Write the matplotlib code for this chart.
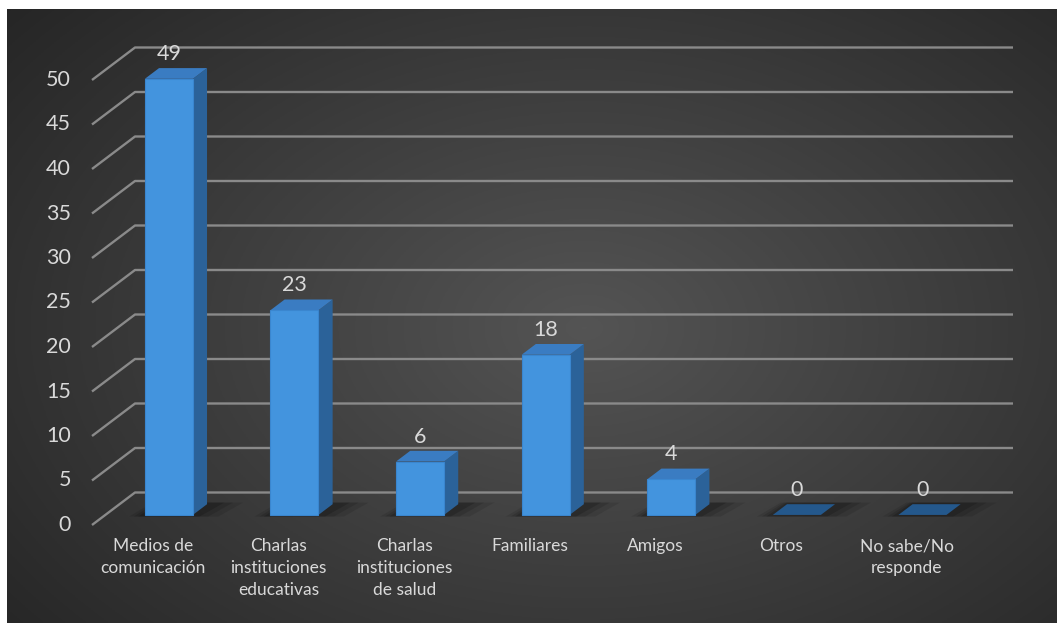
import numpy as np
import matplotlib
matplotlib.use('Agg')
import matplotlib.pyplot as plt
from matplotlib.patches import Polygon

# chart data
categories = ['Medios de\ncomunicación', 'Charlas\ninstituciones\neducativas',
              'Charlas\ninstituciones\nde salud', 'Familiares', 'Amigos', 'Otros',
              'No sabe/No\nresponde']
values = [49, 23, 6, 18, 4, 0, 0]
y_ticks = [0, 5, 10, 15, 20, 25, 30, 35, 40, 45, 50]

# pixel geometry of the front plane (Excel 3D look)
W, H = 1057, 623
X0, XS = 153.0, 125.6      # pixel of category 0, pixels per category
Y0, YS = 525.0, 8.9        # pixel of value 0 (from top), pixels per unit
DX, DY = 43.0 / XS, 32.5 / YS   # full depth offset in data units

def px_x(p):
    return (p - X0) / XS

def px_y(p):
    return (Y0 - p) / YS

def pt(x, y, d):
    return (x + d * DX, y + d * DY)

TXT = '#d9d9d9'
GRID = '#8a8a8a'
plt.rcParams['font.family'] = ['Lato', 'DejaVu Sans']

fig = plt.figure(figsize=(W / 100, H / 100), dpi=100, facecolor='white')

# dark radial background panel
bg = fig.add_axes([7 / W, 0, (W - 7) / W, (H - 9) / H])
gx, gy = np.meshgrid(np.linspace(0, 1, 400), np.linspace(0, 1, 240))
r = np.sqrt(((gx - 0.55) / 0.75) ** 2 + ((gy - 0.52) / 0.85) ** 2)
shade = np.clip(0.33 - 0.19 * r, 0.13, 0.33)
bg.imshow(np.dstack([shade] * 3), aspect='auto', extent=[0, 1, 0, 1], origin='upper')
bg.axis('off')

ax = fig.add_axes([0, 0, 1, 1])
ax.set_xlim(px_x(0), px_x(W))
ax.set_ylim(px_y(H), px_y(0))
ax.axis('off')
ax.patch.set_alpha(0)

# gridlines: short oblique side-wall part + back wall line
xf = px_x(92)
xr = px_x(1013)
for v in y_ticks:
    ax.plot([xf, xf + DX, xr], [v, v + DY, v + DY], color=GRID, lw=1.7,
            solid_capstyle='butt', zorder=1)
    ax.text(px_x(71), v, str(v), ha='right', va='center', color=TXT,
            fontsize=15.5, zorder=5)

# bars
bw = 48.0 / XS
d0, d1 = 0.31, 0.64
for i, v in enumerate(values):
    xc = i + 0.02
    xl, xrr = xc - bw / 2, xc + bw / 2
    # soft floor shadow
    for k, a in zip([0.22, 0.14, 0.07], [0.10, 0.12, 0.16]):
        sh = [pt(xl - k * 0.5, 0, d0 - 0.05), pt(xrr + k, 0, d0 - 0.05),
              pt(xrr + k + 0.05, 0, d1 + 0.05), pt(xl - k * 0.3, 0, d1 + 0.05)]
        ax.add_patch(Polygon(sh, closed=True, fc='black', ec='none', alpha=a, zorder=2))
    if v == 0:
        top = [pt(xl, 0, d0), pt(xrr, 0, d0), pt(xrr, 0, d1), pt(xl, 0, d1)]
        ax.add_patch(Polygon(top, closed=True, fc='#24588c', ec='none', zorder=3))
    else:
        side = [pt(xrr, 0, d0), pt(xrr, 0, d1), pt(xrr, v, d1), pt(xrr, v, d0)]
        top = [pt(xl, v, d0), pt(xrr, v, d0), pt(xrr, v, d1), pt(xl, v, d1)]
        front = [pt(xl, 0, d0), pt(xrr, 0, d0), pt(xrr, v, d0), pt(xl, v, d0)]
        ax.add_patch(Polygon(side, closed=True, fc='#2b6299', ec='none', zorder=3))
        ax.add_patch(Polygon(top, closed=True, fc='#3a7cc2', ec='none', zorder=3))
        ax.add_patch(Polygon(front, closed=True, fc='#4394de', ec='#3a86cf', lw=0.8, zorder=4))
    lx, ly = pt(xc, v, d0)
    ax.annotate(str(v), (lx, ly), xytext=(0, 18), textcoords='offset points',
                ha='center', va='center', color=TXT, fontsize=15.5, zorder=6)

# category labels
for i, c in enumerate(categories):
    ax.text(i, px_y(538), c, ha='center', va='top', color=TXT, fontsize=12.5,
            linespacing=1.45, zorder=5)

fig.savefig('out.png', dpi=100, facecolor='white')
